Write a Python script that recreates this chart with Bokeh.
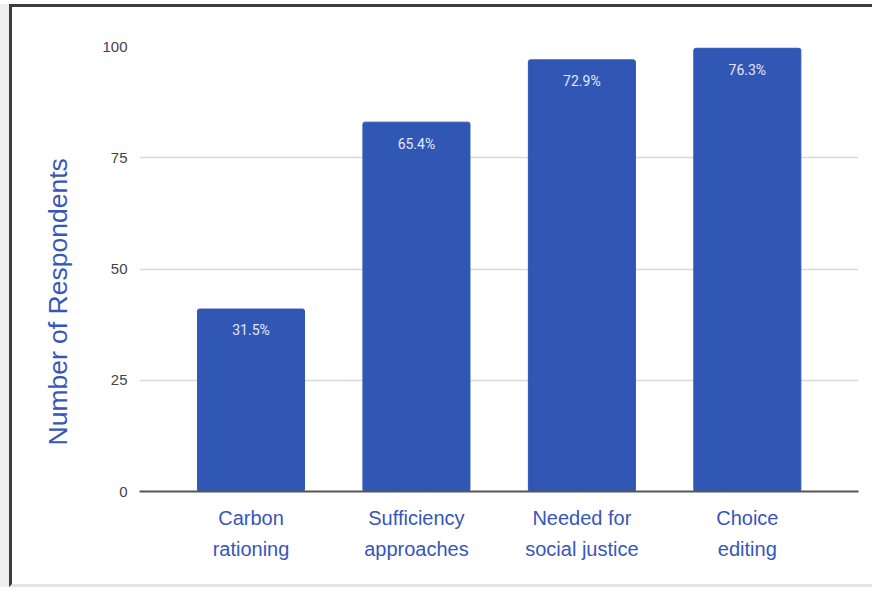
from bokeh.plotting import figure
from bokeh.models import ColumnDataSource, Range1d, FixedTicker, Title
from bokeh.core.properties import value
from bokeh.embed import file_html
from bokeh.resources import INLINE

# ---- data ----
categories = ["Carbon\nrationing", "Sufficiency\napproaches", "Needed for\nsocial justice", "Choice\nediting"]
respondents = [41, 83, 97, 99.6]
percent_labels = ["31.5%", "65.4%", "72.9%", "76.3%"]
y_ticks = [0, 25, 50, 75, 100]
y_title = "Number of Respondents"

BAR = "#3157b5"
BLUE_TXT = "#3656bc"

xs = list(range(len(categories)))
src = ColumnDataSource(dict(x=xs, top=respondents, lab=percent_labels,
                            laby=[v - 4.8 for v in respondents]))

p = figure(width=863, height=583, output_backend="svg", toolbar_location=None,
           x_range=Range1d(-0.674, 3.672), y_range=Range1d(0, 100),
           min_border_left=127, min_border_right=17, min_border_top=39, min_border_bottom=99)
p.background_fill_color = "white"
p.border_fill_color = "white"
p.outline_line_color = None
p.styles = {"margin-left": "9px", "margin-top": "4px",
            "border-left": "3px solid #3d3d3d", "border-top": "3px solid #3d3d3d",
            "border-bottom": "3px solid #e4e4e4",
            "box-shadow": "-9px 0 0 #eeeeee"}

p.vbar(x="x", top="top", width=0.647, source=src, color=BAR, border_radius=2)
p.text(x="x", y="laby", text="lab", source=src, text_align="center", text_baseline="middle",
       text_color="#e3e8f7", text_font=value("Roboto"), text_font_size="14px")

# axes
p.xaxis.ticker = FixedTicker(ticks=xs)
p.xaxis.major_label_overrides = {i: c for i, c in zip(xs, categories)}
p.xaxis.major_label_text_font = "Liberation Sans"
p.xaxis.major_label_text_font_size = "20px"
p.xaxis.major_label_text_color = BLUE_TXT
p.xaxis.major_label_text_line_height = 1.45
p.xaxis.major_label_standoff = 9
p.xaxis.major_tick_line_color = None
p.xaxis.minor_tick_line_color = None
p.xaxis.axis_line_color = "#555555"
p.xaxis.axis_line_width = 2

p.yaxis.ticker = FixedTicker(ticks=y_ticks)
p.yaxis.major_label_text_font = "Liberation Sans"
p.yaxis.major_label_text_font_size = "15px"
p.yaxis.major_label_text_color = "#444444"
p.yaxis.major_label_standoff = 6
p.yaxis.major_tick_line_color = None
p.yaxis.minor_tick_line_color = None
p.yaxis.axis_line_color = None

p.add_layout(Title(text=y_title, text_font="Liberation Sans",
                   text_font_style="normal", text_font_size="26.5px", text_color=BLUE_TXT,
                   align="left", offset=46, standoff=54), "left")

p.xgrid.grid_line_color = None
p.ygrid.grid_line_color = "#d9d9d9"
p.ygrid.grid_line_width = 1.5

open("out.html", "w").write(file_html(p, INLINE))
